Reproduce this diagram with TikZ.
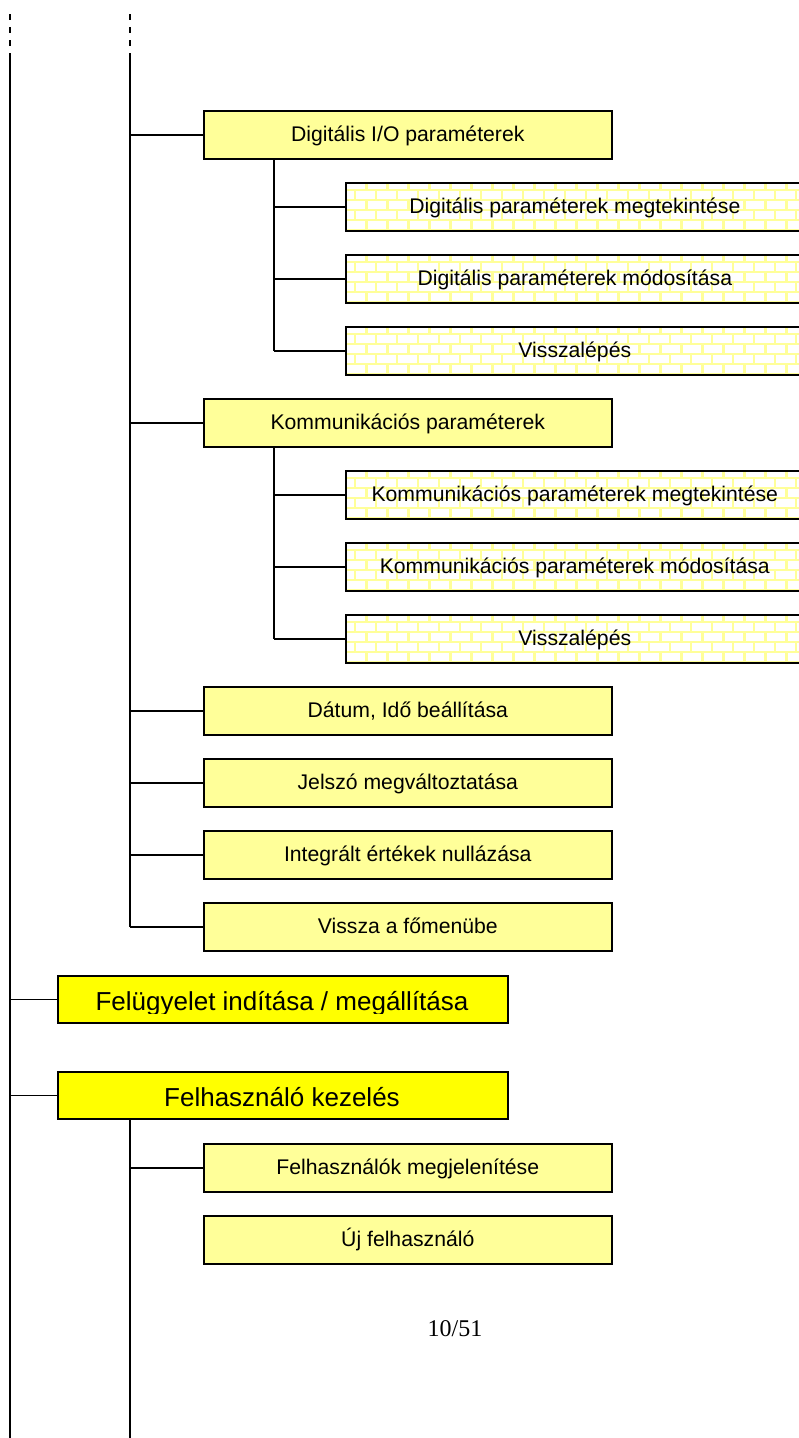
\documentclass[tikz,border=0pt]{standalone}
\usepackage{fontspec}
\setmainfont{Liberation Sans}
\newfontfamily\pageserif{Liberation Serif}
\usetikzlibrary{backgrounds}
\definecolor{lightyel}{HTML}{FFFF99}
\definecolor{brightyel}{HTML}{FFFF00}
\definecolor{brickc}{HTML}{FFFF99}
\tikzset{
  conn/.style={line width=1.5pt, black},
  trunk/.style={line width=2pt, black},
  dashtrunk/.style={line width=2pt, black, dash pattern=on 6pt off 7pt},
  lbox/.style={draw=black, line width=1.6pt, fill=lightyel, anchor=north west,
     minimum width=408pt, minimum height=48pt, inner sep=0pt,
     font=\fontsize{21.2}{24}\selectfont, text height=18.5pt, text depth=4.5pt},
  brbox/.style={draw=black, line width=1.6pt, anchor=north west,
     minimum width=458pt, minimum height=48pt, inner sep=0pt,
     font=\fontsize{21.2}{24}\selectfont, text height=18.5pt, text depth=4.5pt},
  bbox/.style={draw=black, line width=1.8pt, fill=brightyel, anchor=north west,
     minimum width=450pt, minimum height=47pt, inner sep=0pt},
  btext/.style={font=\fontsize{26}{30}\selectfont, anchor=base, inner sep=0pt}
}
\newcommand{\brickfill}[1]{%
\begin{pgfonlayer}{background}
\begin{scope}
\clip (#1.north west) rectangle (#1.south east);
\fill[white] (#1.north west) rectangle (#1.south east);
\begin{scope}[shift={(#1.north west)}]
\foreach \r in {0,...,4} {
  \fill[brickc] (0,{8+10*\r-1.4}) rectangle (470,{8+10*\r+1.4});
}
\foreach \r in {0,2,4} {
  \foreach \k in {0,...,21} {
    \fill[brickc] ({21.7+21*\k-1.4},{10*\r-2}) rectangle ({21.7+21*\k+1.4},{10*\r+8});
  }
}
\foreach \r in {1,3} {
  \foreach \k in {0,...,22} {
    \fill[brickc] ({10+21*\k-1.4},{10*\r-2}) rectangle ({10+21*\k+1.4},{10*\r+8});
  }
}
\end{scope}
\end{scope}
\end{pgfonlayer}}
\begin{document}
\begin{tikzpicture}[x=1pt,y=-1pt]
\useasboundingbox (0,0) rectangle (799,1438);

% trunk coordinates
\coordinate (a0) at (10,14);
\coordinate (a1) at (10,54);
\coordinate (a2) at (10,1438);
\coordinate (b0) at (130,14);
\coordinate (b1) at (130,54);
\coordinate (b3) at (130,1438);
\coordinate (c1) at (274,0);

% level 2 boxes
\node[lbox] (dio) at (203,110) {Digitális I/O paraméterek};
\node[brbox] (dio1) at (345,182) {Digitális paraméterek megtekintése};
\node[brbox] (dio2) at (345,254) {Digitális paraméterek módosítása};
\node[brbox] (dio3) at (345,326) {Visszalépés};
\node[lbox] (kom) at (203,398) {Kommunikációs paraméterek};
\node[brbox] (kom1) at (345,470) {Kommunikációs paraméterek megtekintése};
\node[brbox] (kom2) at (345,542) {Kommunikációs paraméterek módosítása};
\node[brbox] (kom3) at (345,614) {Visszalépés};
\node[lbox] (dat) at (203,686) {Dátum, Idő beállítása};
\node[lbox] (jel) at (203,758) {Jelszó megváltoztatása};
\node[lbox] (integ) at (203,830) {Integrált értékek nullázása};
\node[lbox] (vissza) at (203,902) {Vissza a főmenübe};

\brickfill{dio1}
\brickfill{dio2}
\brickfill{dio3}
\brickfill{kom1}
\brickfill{kom2}
\brickfill{kom3}

% level 1 boxes
\node[bbox] (felu) at (57,975) {};
\begin{scope}
\clip (57,975) rectangle (510,1013);
\node[btext] (felut) at (282,1010) {Felügyelet indítása / megállítása};
\end{scope}
\node[bbox] (felh) at (57,1071) {};
\node[btext] (felht) at (282,1106) {Felhasználó kezelés};

\node[lbox] (fmeg) at (203,1143) {Felhasználók megjelenítése};
\node[lbox] (uj) at (203,1215) {Új felhasználó};

% trunks
\draw[dashtrunk] (a0) -- (a1);
\draw[dashtrunk] (b0) -- (b1);
\draw[trunk] (a1) -- (a2);
\draw[trunk] (b1) -- (b1 |- vissza.west);
\draw[trunk] (felh.south -| b1) -- (b3);
\draw[trunk] (dio.south -| c1) -- (c1 |- dio3.west);
\draw[trunk] (kom.south -| c1) -- (c1 |- kom3.west);

% connectors
\foreach \n in {dio,kom,dat,jel,integ,vissza,fmeg} {
  \draw[conn] (b1 |- \n.west) -- (\n.west);
}
\foreach \n in {dio1,dio2,dio3,kom1,kom2,kom3} {
  \draw[conn] (c1 |- \n.west) -- (\n.west);
}
\foreach \n in {felu,felh} {
  \draw[conn] (a1 |- \n.west) -- (\n.west);
}

\node[font=\pageserif\fontsize{24}{28}\selectfont, anchor=base, inner sep=0pt] (pg) at (455,1336) {10/51};
\end{tikzpicture}
\end{document}
